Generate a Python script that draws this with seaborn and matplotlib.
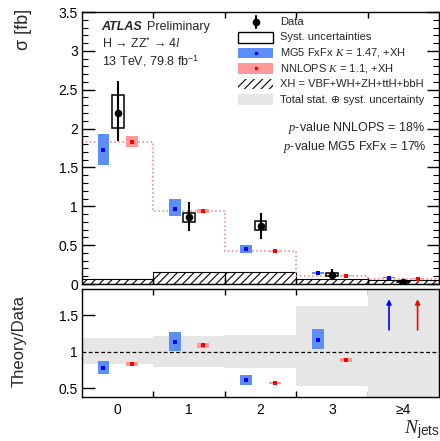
import numpy as np
import matplotlib
matplotlib.use("Agg")
import matplotlib.pyplot as plt
import seaborn as sns
from matplotlib.patches import Rectangle
from matplotlib.lines import Line2D
from matplotlib.ticker import MultipleLocator, FixedLocator, FuncFormatter, NullLocator

# ---------------- data ----------------
njets_labels = ["0", "1", "2", "3", "≥4"]
bin_pos = [0, 1, 2, 3, 4]

data_xs = [2.20, 0.86, 0.74, 0.12, 0.03]
data_err_hi = [0.41, 0.19, 0.17, 0.076, 0.04]
data_err_lo = [0.36, 0.18, 0.16, 0.057, 0.03]
data_syst_hi = [0.23, 0.06, 0.07, 0.02, 0.006]
data_syst_lo = [0.19, 0.06, 0.05, 0.02, 0.006]

mg5_xs = [1.72, 0.97, 0.45, 0.14, 0.08]
mg5_hi = [1.93, 1.09, 0.50, 0.157, 0.085]
mg5_lo = [1.53, 0.87, 0.40, 0.125, 0.075]

nnlops_xs = [1.83, 0.94, 0.42, 0.107, 0.07]
nnlops_hi = [1.90, 0.965, 0.43, 0.110, 0.073]
nnlops_lo = [1.76, 0.91, 0.41, 0.103, 0.067]

xh_xs = [0.07, 0.15, 0.16, 0.065, 0.05]

pval_nnlops = 18
pval_mg5 = 17

# ---------------- style ----------------
sns.set_theme(style="ticks")
plt.rcParams.update({
    "font.family": ["Liberation Sans", "DejaVu Sans"],
    "mathtext.fontset": "custom",
    "mathtext.rm": "Liberation Sans",
    "mathtext.it": "Liberation Serif:italic",
    "mathtext.bf": "Liberation Sans:bold",
    "hatch.linewidth": 0.8,
    "axes.linewidth": 1.0,
    "axes.edgecolor": "black",
    "xtick.color": "black",
    "ytick.color": "black",
})

BLUE = "#5c8ef8"
RED = "#ff9999"
GREY = "#e6e6e6"

W, H = 440, 441
def fx(px):
    return px / W
def fy(py):
    return 1 - py / H

fig = plt.figure(figsize=(W / 100, H / 100), dpi=100)
ax = fig.add_axes([fx(82), fy(284), (439 - 82) / W, (284 - 12) / H])
rax = fig.add_axes([fx(82), fy(397), (439 - 82) / W, (397 - 289) / H])

pos = np.array(bin_pos, dtype=float)
edges = np.arange(-0.5, 5.5, 1.0)
off = 0.2
bw = 0.165

d = np.array(data_xs)
mg5 = np.array(mg5_xs); mg5h = np.array(mg5_hi); mg5l = np.array(mg5_lo)
nn = np.array(nnlops_xs); nnh = np.array(nnlops_hi); nnl = np.array(nnlops_lo)

# ---------------- main panel ----------------
ax.bar(pos, xh_xs, width=1.0, fill=False, hatch="////", edgecolor="black",
       linewidth=0.8, zorder=1)
ax.stairs(nnlops_xs, edges, color="#f38080", linestyle=":", linewidth=1.1, zorder=2)

ax.bar(pos - off, mg5h - mg5l, bottom=mg5l, width=bw, color=BLUE, linewidth=0, zorder=3)
ax.bar(pos + off, nnh - nnl, bottom=nnl, width=bw, color=RED, linewidth=0, zorder=3)
sns.scatterplot(x=pos - off, y=mg5, color="#0000ff", s=5, marker="s", linewidth=0,
                ax=ax, zorder=4, legend=False)
sns.scatterplot(x=pos + off, y=nn, color="#ff0000", s=5, marker="s", linewidth=0,
                ax=ax, zorder=4, legend=False)

syst_lo = d - np.array(data_syst_lo)
syst_h = np.array(data_syst_hi) + np.array(data_syst_lo)
ax.bar(pos, syst_h, bottom=syst_lo, width=bw, fill=False, edgecolor="black",
       linewidth=1.1, zorder=5)
ax.errorbar(pos, d, yerr=[data_err_lo, data_err_hi], fmt="none", ecolor="black",
            elinewidth=1.5, capsize=0, zorder=6)
sns.scatterplot(x=pos, y=d, color="black", s=30, linewidth=0, ax=ax, zorder=7,
                legend=False)

ax.set_xlim(-0.5, 4.5)
ax.set_ylim(0, 3.5)
ax.yaxis.set_major_locator(MultipleLocator(0.5))
ax.yaxis.set_minor_locator(MultipleLocator(0.1))
ax.yaxis.set_major_formatter(FuncFormatter(lambda v, _: f"{v:g}"))
ax.xaxis.set_major_locator(FixedLocator(edges[1:-1]))
ax.xaxis.set_minor_locator(NullLocator())
ax.tick_params(axis="y", which="major", direction="in", left=True, right=True,
               length=9, width=1, labelsize=10, pad=3)
ax.tick_params(axis="y", which="minor", direction="in", left=True, right=True,
               length=4.5, width=0.8)
ax.tick_params(axis="x", which="major", direction="in", top=True, bottom=True,
               length=4, width=1, labelbottom=False)
ax.set_xlabel("")
ax.set_ylabel("")

# ---------------- ratio panel ----------------
band_hi = 1 + np.array(data_err_hi) / d
band_lo = 1 - np.array(data_err_lo) / d
rax.stairs(band_hi, edges, baseline=band_lo, fill=True, color=GREY, linewidth=0, zorder=1)
rax.axhline(1.0, color="black", linestyle=(0, (3, 2)), linewidth=0.9, zorder=2)

rlim = (0.38, 1.86)
arrow_span = (1.30, 1.72)
for shift, cen, hi, lo, fc, dc in [
    (-off, mg5, mg5h, mg5l, BLUE, "#0000ff"),
    (off, nn, nnh, nnl, RED, "#ff0000"),
]:
    r, rh, rl = cen / d, hi / d, lo / d
    inside = r < rlim[1]
    rax.bar(pos[inside] + shift, (rh - rl)[inside], bottom=rl[inside], width=bw,
            color=fc, linewidth=0, zorder=3)
    sns.scatterplot(x=pos[inside] + shift, y=r[inside], color=dc, s=5, marker="s",
                    linewidth=0, ax=rax, zorder=4, legend=False)
    for xp in pos[~inside] + shift:
        rax.annotate("", xy=(xp, arrow_span[1]), xytext=(xp, arrow_span[0]),
                     arrowprops=dict(arrowstyle="-|>", color=dc, lw=1.2,
                                     mutation_scale=7, shrinkA=0, shrinkB=0),
                     zorder=5)

rax.set_xlim(-0.5, 4.5)
rax.set_ylim(*rlim)
rax.yaxis.set_major_locator(FixedLocator([0.5, 1.0, 1.5]))
rax.yaxis.set_minor_locator(NullLocator())
rax.yaxis.set_major_formatter(FuncFormatter(lambda v, _: f"{v:g}"))
rax.set_xticks(edges[1:-1])
rax.set_xticklabels([])
rax.set_xticks(pos, minor=True)
rax.set_xticklabels(njets_labels, minor=True)
rax.tick_params(axis="y", which="major", direction="in", left=True, right=True,
                length=9, width=1, labelsize=10, pad=3)
rax.tick_params(axis="x", which="major", direction="in", top=True, bottom=True,
                length=4, width=1)
rax.tick_params(axis="x", which="minor", length=0, labelsize=10, pad=4)
rax.set_xlabel("")
rax.set_ylabel("")

# ---------------- axis titles ----------------
fig.text(fx(24), fy(9), "σ [fb]", rotation=90, ha="center", va="top", fontsize=13)
fig.text(fx(19), fy(341), "Theory/Data", rotation=90, ha="center", va="center",
         fontsize=12)
fig.text(fx(440), 0.0, r"$N_{\mathrm{jets}}$", ha="right", va="bottom", fontsize=14)

# ---------------- labels ----------------
fig.text(fx(101.5), fy(27), "ATLAS", fontsize=9, fontweight="bold", fontstyle="italic",
         va="center")
fig.text(fx(147), fy(27), "Preliminary", fontsize=9, va="center")
fig.text(fx(101.5), fy(44), r"H → ZZ$^{*}$ → 4$l$", fontsize=9, va="center")
fig.text(fx(101.5), fy(61), r"13 TeV, 79.8 fb$^{-1}$", fontsize=9, va="center")

fig.text(fx(425), fy(127.5), rf"$p$-value NNLOPS = {pval_nnlops}%", fontsize=9,
         ha="right", va="center")
fig.text(fx(427), fy(147), rf"$p$-value MG5 FxFx = {pval_mg5}%", fontsize=9,
         ha="right", va="center")

# ---------------- legend ----------------
def frect(x0, y0, x1, y1, **kw):
    fig.add_artist(Rectangle((fx(x0), fy(y1)), fx(x1) - fx(x0), fy(y0) - fy(y1),
                             transform=fig.transFigure, **kw))

lx0, lx1 = 238, 273
lxc = 256
tx = 280
rows = [22, 37.5, 52.7, 68.3, 84, 99.7]

fig.add_artist(Line2D([fx(lxc), fx(lxc)], [fy(16), fy(28)], color="black", lw=1.5,
                      transform=fig.transFigure))
fig.add_artist(Line2D([fx(lxc)], [fy(22)], marker="o", markersize=4.5, color="black",
                      transform=fig.transFigure))
frect(lx0, 32, lx1, 43, facecolor="white", edgecolor="black", linewidth=1.0)
frect(lx0, 47.5, lx1, 58, facecolor=BLUE, linewidth=0)
fig.add_artist(Line2D([fx(lxc)], [fy(52.7)], marker="s", markersize=1.5, color="#0000ff",
                      transform=fig.transFigure))
frect(lx0, 63, lx1, 73.5, facecolor=RED, linewidth=0)
fig.add_artist(Line2D([fx(lxc)], [fy(68.3)], marker="s", markersize=1.5, color="#ff0000",
                      transform=fig.transFigure))
frect(lx0, 79, lx1, 89, fill=False, hatch="////", edgecolor="black", linewidth=0)
frect(lx0, 94.5, lx1, 105, facecolor=GREY, linewidth=0)

legend_texts = [
    "Data",
    "Syst. uncertainties",
    r"MG5 FxFx $K$ = 1.47, +XH",
    r"NNLOPS $K$ = 1.1, +XH",
    "XH = VBF+WH+ZH+ttH+bbH",
    "Total stat. ⊕ syst. uncertainty",
]
for yy, t in zip(rows, legend_texts):
    fig.text(fx(tx), fy(yy), t, fontsize=8, va="center", ha="left")

fig.savefig("out.png", dpi=100)
